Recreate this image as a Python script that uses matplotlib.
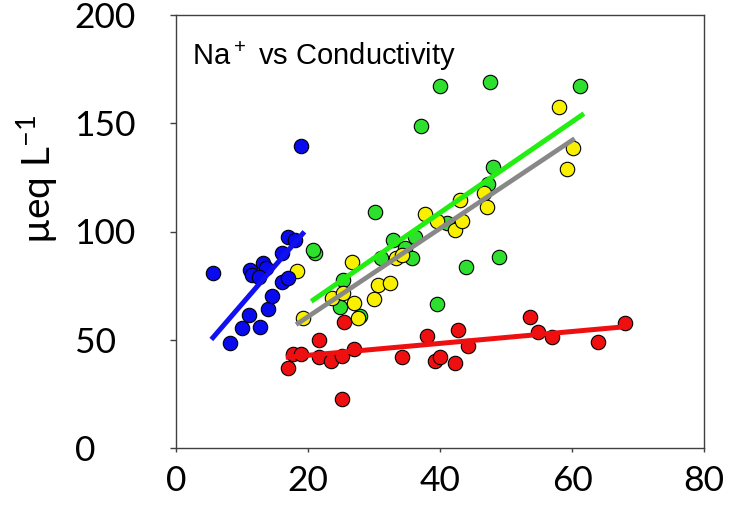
import matplotlib
matplotlib.use("Agg")
import matplotlib.pyplot as plt

# points (conductivity, ueq/L)
blue_x = [5.6, 8.2, 10.0, 11.0, 12.8, 13.9, 14.6, 11.2, 11.5, 13.2, 13.7, 12.5, 16.0, 17.0, 16.0, 17.0, 18.0, 19.0]
blue_y = [81, 48.5, 55.6, 61.4, 56, 64, 70, 82, 80, 85.3, 83, 78.8, 76.8, 78.4, 90, 97.6, 96, 139.5]

green_x = [40.0, 37.1, 30.2, 47.6, 61.2, 48.1, 44.0, 49.0, 39.6, 21.1, 20.8, 32.9, 34.7,
           35.7, 31.0, 41.0, 25.3, 24.8, 27.9, 47.3, 36.2]
green_y = [167, 148.7, 109, 168.9, 167.4, 129.6, 83.5, 88.1, 66.5, 89.9, 91.4, 96, 92.2,
           87.6, 87.6, 104, 77.6, 65.3, 60.8, 122, 97.3]

yellow_x = [18.4, 19.3, 26.6, 37.7, 39.5, 42.2, 43.4, 30.6, 32.4, 30.0, 23.6, 25.3, 26.9,
            27.6, 33.4, 58.1, 60.1, 59.2, 43.0, 46.6, 47.1, 34.2]
yellow_y = [81.9, 59.9, 86, 108, 104.7, 100.7, 104.7, 75.5, 76, 68.7, 69.1, 71.4, 66.8,
            59.9, 87.6, 157.4, 138.4, 128.7, 114.5, 117.6, 111.5, 89.1]

red_x = [17.0, 17.8, 19.0, 21.7, 21.7, 23.5, 25.1, 25.4, 25.1, 26.9, 34.2, 38.0, 39.2, 40.0,
         42.2, 42.7, 44.3, 53.6, 54.9, 56.9, 64.0, 68.0]
red_y = [36.8, 43.4, 43.4, 49.9, 42.2, 40.0, 42.5, 58.0, 22.5, 45.7, 42.2, 51.7, 40.3, 41.9,
         39.4, 54.5, 47.1, 60.3, 53.8, 51.4, 49.1, 57.6]

# regression line end points
blue_fit_x, blue_fit_y = [5.6, 19.2], [51, 99]
green_fit_x, green_fit_y = [20.8, 61.5], [68.4, 153.8]
gray_fit_x, gray_fit_y = [18.5, 60.1], [57.6, 142.3]
red_fit_x, red_fit_y = [17, 68], [42, 56]

x_ticks = [0, 20, 40, 60, 80]
y_ticks = [0, 50, 100, 150, 200]

fig = plt.figure(figsize=(7.39, 5.12), dpi=100)
ax = fig.add_axes([176 / 739, 1 - 448 / 512, 528 / 739, 433 / 512])

pt = dict(s=108, edgecolors="black", linewidths=0.8)
ax.scatter(green_x, green_y, c="#2ee02e", zorder=2, **pt)
ax.scatter(yellow_x, yellow_y, c="#f8f000", zorder=2, **pt)
ax.scatter(blue_x, blue_y, c="#0a0aee", zorder=2, **pt)
ax.scatter(red_x, red_y, c="#ee1010", zorder=2, **pt)

ax.plot(blue_fit_x, blue_fit_y, color="#1010f0", lw=3.6, zorder=3)
ax.plot(green_fit_x, green_fit_y, color="#22ee11", lw=3.6, zorder=3)
ax.plot(gray_fit_x, gray_fit_y, color="#888888", lw=3.4, zorder=3)
ax.plot(red_fit_x, red_fit_y, color="#ee1010", lw=3.6, zorder=3)

ax.set_xlim(0, 80)
ax.set_ylim(0, 200)
ax.set_xticks(x_ticks)
ax.set_yticks(y_ticks)
for sp in ax.spines.values():
    sp.set_color("#404040")
    sp.set_linewidth(1.0)

ax.tick_params(axis="x", direction="out", length=3, width=1, color="#404040", pad=9,
               labelsize=25.5)
ax.tick_params(axis="y", direction="out", length=4, width=1, color="#404040", pad=69,
               labelsize=25.5)
for lab in ax.get_xticklabels() + ax.get_yticklabels():
    lab.set_fontfamily("Lato")
for lab in ax.get_yticklabels():
    lab.set_ha("left")

ax.text(0.03, 0.885, r"Na$\mathregular{^+}$ vs Conductivity", transform=ax.transAxes,
        fontsize=21, family="Liberation Sans", va="baseline", ha="left", zorder=5)
ax.text(-0.263, 0.62, r"µeq L$\mathregular{^{-1}}$", transform=ax.transAxes, rotation=90,
        fontsize=28, family=["Lato", "DejaVu Sans"], va="center", ha="center")

fig.savefig("out.png", dpi=100)
